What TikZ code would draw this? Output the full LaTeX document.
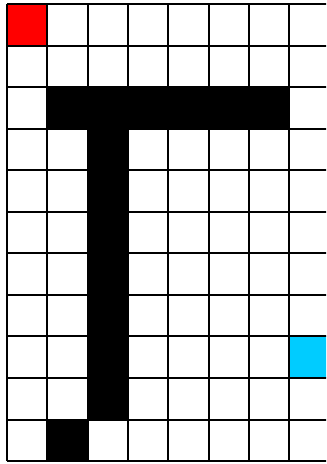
\documentclass[tikz,border=0pt]{standalone}
\definecolor{goalcyan}{RGB}{0,204,255}
\begin{document}
\begin{tikzpicture}[x=30.22pt, y=-31.16pt, gridline/.style={line width=1.5pt}]
    % Page box and white background
    \clip (-0.174,-0.096) rectangle (7.916,11.071);
    \fill[white] (-0.174,-0.096) rectangle (7.916,11.071);

    % Start and goal cells
    \fill[red] (0,0) rectangle (1,1);
    \fill[goalcyan] (7,8) rectangle (8,9);

    % Wall cells
    \fill[black] (1,2) rectangle (7,3);
    \fill[black] (2,3) rectangle (3,10);
    \fill[black] (1,10) rectangle (2,11);

    % Draw grid
    \foreach \x in {0,...,8}
      \draw[gridline] (\x,0) -- (\x,11);
    \foreach \y in {0,...,11}
      \draw[gridline] (0,\y) -- (8,\y);
\end{tikzpicture}
\end{document}
